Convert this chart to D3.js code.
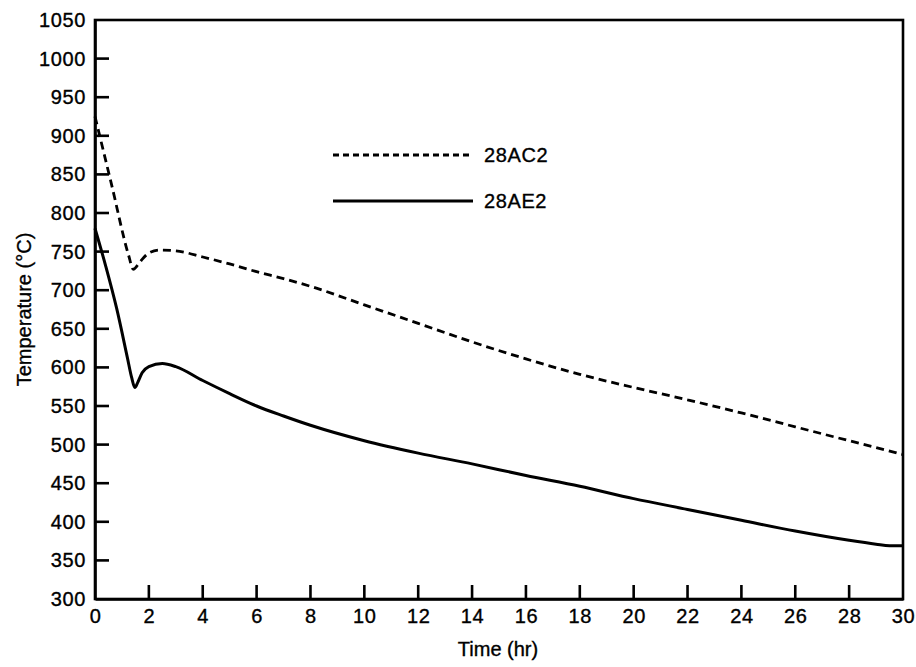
<!DOCTYPE html>
<html>
<head>
<meta charset="utf-8">
<script src="https://cdn.jsdelivr.net/npm/d3@7"></script>
<style>
  html, body { margin: 0; padding: 0; background: #fff; }
  svg { display: block; }
  text { font-family: "Liberation Sans", Arial, sans-serif; fill: #000; }
</style>
</head>
<body>
<svg id="chart" width="916" height="667"></svg>
<script>
// Cooling history of two casts
const timeAC2 = [0, 0.6, 1.25, 1.42, 1.55, 1.75, 2.0, 2.4, 3.0, 4, 5, 6, 7, 8, 10, 12, 14, 16, 18, 20, 22, 24, 26, 28, 30];
const tempAC2 = [925, 839, 745, 727, 731, 740, 748, 752, 751, 743, 734, 724, 715, 705, 681, 657, 633, 611, 591, 574, 558, 541, 523, 505, 487];

const timeAE2 = [0, 0.4, 0.8, 1.2, 1.36, 1.48, 1.58, 1.75, 2.0, 2.5, 3.0, 4, 5, 6, 7, 8, 10, 12, 14, 16, 18, 20, 22, 24, 26, 28, 29, 29.5, 30];
const tempAE2 = [780, 731, 677, 613, 587, 574, 580, 593, 601, 605, 601, 583, 566, 550, 537, 525, 505, 489, 475, 460, 446, 430, 416, 402, 388, 376, 371, 369, 369];

const seriesNames = ["28AC2", "28AE2"];
const xTicks = d3.range(0, 31, 2);
const yTicks = d3.range(300, 1051, 50);
const xTitle = "Time (hr)";
const yTitle = "Temperature (\u00B0C)";

const svg = d3.select("#chart");
const m = { left: 95, right: 903, top: 20, bottom: 599 };
const tickLen = 14;
const tickW = 2.6;

const x = d3.scaleLinear().domain([0, 30]).range([m.left, m.right]);
const y = d3.scaleLinear().domain([300, 1050]).range([m.bottom, m.top]);

// frame
svg.append("rect")
  .attr("x", m.left).attr("y", m.top)
  .attr("width", m.right - m.left).attr("height", m.bottom - m.top)
  .attr("fill", "none").attr("stroke", "#000").attr("stroke-width", 2.6);

// axis labels through d3 axes
const yAxis = d3.axisLeft(y).tickValues(yTicks).tickFormat(d3.format("d")).tickSize(0).tickPadding(9);
const gy = svg.append("g").attr("transform", `translate(${m.left},0)`).call(yAxis);
gy.select(".domain").attr("stroke", "#000").attr("stroke-width", 2.6);
gy.selectAll(".tick text")
  .style("font-size", "20px").style("letter-spacing", "0.6px")
  .attr("font-family", null).attr("fill", "#000")
  .attr("stroke", "#000").attr("stroke-width", 0.35);

const xAxis = d3.axisBottom(x).tickValues(xTicks).tickFormat(d3.format("d")).tickSize(0).tickPadding(10);
const gx = svg.append("g").attr("transform", `translate(0,${m.bottom})`).call(xAxis);
gx.select(".domain").attr("stroke", "#000").attr("stroke-width", 2.6);
gx.selectAll(".tick text")
  .style("font-size", "20px").style("letter-spacing", "0.6px")
  .attr("font-family", null).attr("fill", "#000")
  .attr("stroke", "#000").attr("stroke-width", 0.35);

// inward tick marks
const tickG = svg.append("g");
tickG.selectAll("rect.ytick")
  .data(yTicks.filter(d => d > 300 && d < 1050))
  .join("rect")
  .attr("class", "ytick")
  .attr("x", m.left)
  .attr("y", d => y(d) - tickW / 2)
  .attr("width", tickLen)
  .attr("height", tickW)
  .style("fill", "#000");
tickG.selectAll("rect.xtick")
  .data(xTicks.filter(d => d > 0 && d < 30))
  .join("rect")
  .attr("class", "xtick")
  .attr("x", d => x(d) - tickW / 2)
  .attr("y", m.bottom - tickLen)
  .attr("width", tickW)
  .attr("height", tickLen)
  .style("fill", "#000");

// axis titles
svg.append("text")
  .attr("x", (m.left + m.right) / 2 - 1).attr("y", 656)
  .attr("text-anchor", "middle")
  .style("font-size", "20px")
  .attr("stroke", "#000").attr("stroke-width", 0.35)
  .text(xTitle);

svg.append("text")
  .attr("transform", `translate(31,${(m.top + m.bottom) / 2}) rotate(-90)`)
  .attr("text-anchor", "middle")
  .style("font-size", "20px")
  .attr("stroke", "#000").attr("stroke-width", 0.35)
  .text(yTitle);

// curves
const line = d3.line()
  .x(d => x(d[0]))
  .y(d => y(d[1]))
  .curve(d3.curveMonotoneX);

const dataAC2 = timeAC2.map((t, i) => [t, tempAC2[i]]);
const dataAE2 = timeAE2.map((t, i) => [t, tempAE2[i]]);

svg.append("path")
  .datum(dataAC2)
  .attr("d", line)
  .attr("fill", "none").attr("stroke", "#000")
  .attr("stroke-width", 2.8)
  .attr("stroke-dasharray", "8,5");

svg.append("path")
  .datum(dataAE2)
  .attr("d", line)
  .attr("fill", "none").attr("stroke", "#000")
  .attr("stroke-width", 3);

// legend
const legend = svg.append("g");
const legendRows = [
  { name: seriesNames[0], dash: "6,4", y: 155 },
  { name: seriesNames[1], dash: null, y: 201 }
];
legendRows.forEach(r => {
  legend.append("line")
    .attr("x1", 333).attr("x2", 473)
    .attr("y1", r.y).attr("y2", r.y)
    .attr("stroke", "#000").attr("stroke-width", 3)
    .attr("stroke-dasharray", r.dash);
  legend.append("text")
    .attr("x", 484).attr("y", r.y + 7)
    .style("font-size", "20px").style("letter-spacing", "0.6px")
    .attr("stroke", "#000").attr("stroke-width", 0.35)
    .text(r.name);
});
</script>
</body>
</html>
